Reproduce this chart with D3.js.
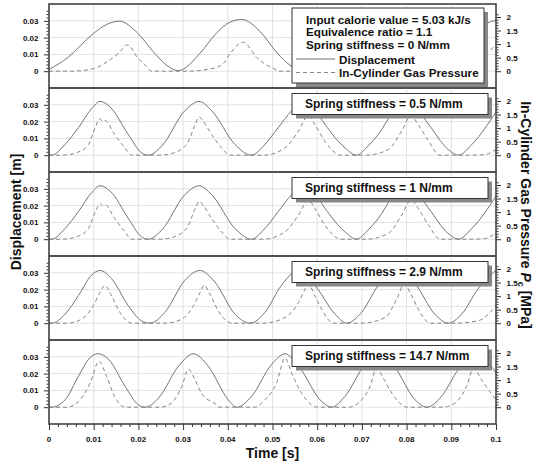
<!DOCTYPE html>
<html lang="en">
    <head>
        <meta charset="utf-8">
        <title>Displacement and in-cylinder pressure</title>
        <script src="https://d3js.org/d3.v7.min.js"></script>
        <style>
            html, body {
                margin: 0;
                padding: 0;
                width: 533px;
                height: 462px;
                overflow: hidden;
                background: white;
            }
            svg {
                display: block;
                overflow: visible;
            }
        </style>
    </head>
    <body>
        <script type="text/javascript">

            // spring stiffness of each panel, top to bottom
            var panelLabels = ["Spring stiffness = 0 N/mm", "Spring stiffness = 0.5 N/mm",
                               "Spring stiffness = 1 N/mm", "Spring stiffness = 2.9 N/mm",
                               "Spring stiffness = 14.7 N/mm"];
            var legendInfo = ["Input calorie value = 5.03 kJ/s", "Equivalence ratio = 1.1",
                              "Spring stiffness = 0 N/mm"];
            var seriesNames = ["Displacement", "In-Cylinder Gas Pressure"];

            var xTicks = [0, 0.01, 0.02, 0.03, 0.04, 0.05, 0.06, 0.07, 0.08, 0.09, 0.1];
            var dispTicks = [0, 0.01, 0.02, 0.03];
            var presTicks = [0, 0.5, 1, 1.5, 2];

            // [time s, displacement m]
            var disp0 = [[0,0.001],[0.004,0.0077],[0.0101,0.0228],[0.0129,0.0278],[0.0157,0.0298],[0.0198,0.0228],
                         [0.0233,0.0117],[0.0263,0.0036],[0.0289,0.0003],[0.0338,0.0107],[0.0375,0.0228],[0.0405,0.0292],
                         [0.0431,0.0308],[0.0472,0.0237],[0.051,0.011],[0.0539,0.0036],[0.0575,0.0003],[0.061,0.004],
                         [0.064,0.012],[0.067,0.022],[0.0695,0.028],[0.0717,0.030],[0.074,0.028],[0.077,0.02],
                         [0.080,0.011],[0.083,0.004],[0.086,0.0003],[0.089,0.003],[0.092,0.011],[0.095,0.021],
                         [0.098,0.0285],[0.1,0.0302]];
            var disp1 = [[0,0.0005],[0.0006,0],[0.0036,0.0064],[0.0066,0.0165],[0.0095,0.0276],[0.0114,0.032],
                         [0.0137,0.0286],[0.0177,0.0125],[0.0207,0.0014],[0.0222,0],[0.0252,0.0054],[0.0304,0.0265],
                         [0.0336,0.032],[0.0364,0.0265],[0.0416,0.0064],[0.0453,0],[0.048,0.0055],[0.0513,0.0165],
                         [0.0543,0.0265],[0.057,0.032],[0.0595,0.027],[0.0617,0.0185],[0.0662,0.0044],[0.0688,0],
                         [0.0712,0.005],[0.0737,0.0125],[0.0767,0.0245],[0.080,0.032],[0.0826,0.0265],[0.0849,0.0185],
                         [0.0893,0.0034],[0.0916,0],[0.0946,0.0064],[0.1,0.0258]];
            var disp2 = [[0,0.0005],[0.0006,0],[0.0036,0.0064],[0.0066,0.0165],[0.0095,0.0276],[0.0114,0.0318],
                         [0.0137,0.0286],[0.0177,0.0125],[0.0207,0.0014],[0.0222,0],[0.0252,0.0054],[0.0304,0.0265],
                         [0.0336,0.0318],[0.0364,0.0265],[0.0416,0.0064],[0.0453,0],[0.048,0.0055],[0.0513,0.0165],
                         [0.0543,0.0265],[0.057,0.0318],[0.0595,0.027],[0.0617,0.0185],[0.0662,0.0044],[0.0688,0],
                         [0.0712,0.005],[0.0737,0.0125],[0.0767,0.0245],[0.080,0.0318],[0.0826,0.0265],[0.0849,0.0185],
                         [0.0893,0.0034],[0.0916,0],[0.0946,0.0064],[0.1,0.0255]];
            var disp3 = [[0,0.0002],[0.0006,0],[0.0036,0.0054],[0.0066,0.0165],[0.0095,0.0286],[0.0114,0.0314],
                         [0.014,0.0265],[0.0177,0.0105],[0.0207,0.0014],[0.0226,0],[0.0259,0.0064],[0.0304,0.0255],
                         [0.0338,0.0314],[0.0371,0.0245],[0.0416,0.0054],[0.045,0],[0.0483,0.0064],[0.052,0.0225],
                         [0.0558,0.0314],[0.0595,0.0225],[0.064,0.0054],[0.0666,0],[0.0699,0.0064],[0.0737,0.0225],
                         [0.0781,0.0314],[0.0819,0.0235],[0.0863,0.0054],[0.0893,0],[0.0923,0.0054],[0.096,0.0205],
                         [0.1,0.0316]];
            var disp4 = [[0,0.0002],[0.0006,0],[0.0036,0.0044],[0.0066,0.0185],[0.0092,0.0296],[0.011,0.0318],
                         [0.0133,0.0286],[0.017,0.0125],[0.020,0.0014],[0.0215,0],[0.0245,0.0054],[0.029,0.0245],
                         [0.0323,0.0318],[0.0356,0.0245],[0.0401,0.0044],[0.042,0],[0.0453,0.0064],[0.0498,0.0255],
                         [0.0528,0.0318],[0.0558,0.0245],[0.061,0.0034],[0.0632,0],[0.0662,0.0064],[0.0707,0.0255],
                         [0.0738,0.0318],[0.0774,0.0235],[0.0819,0.0044],[0.0845,0],[0.0878,0.0064],[0.0916,0.0225],
                         [0.0953,0.0318],[0.0975,0.0286],[0.1,0.0205]];

            // [time s, pressure MPa]
            var pres0 = [[0,0],[0.005,0],[0.0101,0.1],[0.013,0.35],[0.0155,0.65],[0.0176,0.97],[0.0198,0.5],
                         [0.0215,0.22],[0.023,0],[0.0308,0],[0.036,0.08],[0.039,0.28],[0.0405,0.65],[0.0435,1.07],
                         [0.0465,0.5],[0.048,0.3],[0.0505,0.08],[0.0515,0],[0.059,0],[0.064,0.08],[0.067,0.28],
                         [0.069,0.65],[0.0717,1.0],[0.0745,0.5],[0.077,0.15],[0.0795,0],[0.0875,0],[0.093,0.1],
                         [0.096,0.35],[0.0987,0.78],[0.1,0.95]];
            var pres1 = [[0,0],[0.003,0],[0.0066,0.12],[0.0088,0.39],[0.0103,1.0],[0.0114,1.35],[0.0119,1.26],
                         [0.0125,1.28],[0.0147,0.76],[0.017,0.27],[0.0185,0],[0.025,0],[0.0289,0.15],[0.0312,0.52],
                         [0.0327,1.13],[0.0336,1.41],[0.0345,1.25],[0.0364,0.76],[0.0386,0.27],[0.0405,0],[0.048,0],
                         [0.0528,0.27],[0.0558,0.89],[0.058,1.46],[0.0595,1.13],[0.0617,0.52],[0.0647,0.02],[0.065,0],
                         [0.071,0],[0.0759,0.21],[0.0789,0.89],[0.081,1.46],[0.0826,1.13],[0.0849,0.52],[0.0875,0],
                         [0.094,0],[0.0975,0.02],[0.1,0.22]];
            var pres2 = [[0,0],[0.003,0],[0.0066,0.12],[0.0088,0.39],[0.0103,0.98],[0.0115,1.32],[0.012,1.24],
                         [0.0126,1.26],[0.0147,0.76],[0.017,0.27],[0.0185,0],[0.025,0],[0.0289,0.15],[0.0312,0.52],
                         [0.0327,1.13],[0.0336,1.40],[0.0345,1.25],[0.0364,0.76],[0.0386,0.27],[0.0405,0],[0.048,0],
                         [0.0528,0.27],[0.0558,0.89],[0.058,1.44],[0.0595,1.13],[0.0617,0.52],[0.0647,0.02],[0.065,0],
                         [0.071,0],[0.0759,0.21],[0.0789,0.89],[0.081,1.44],[0.0826,1.13],[0.0849,0.52],[0.0875,0],
                         [0.094,0],[0.0975,0.02],[0.1,0.24]];
            var pres3 = [[0,0],[0.004,0],[0.0073,0.15],[0.0099,0.64],[0.0114,1.13],[0.0125,1.40],[0.014,1.0],
                         [0.0159,0.39],[0.0185,0],[0.026,0],[0.0297,0.15],[0.0323,0.64],[0.0338,1.13],[0.0347,1.41],
                         [0.036,1.07],[0.0379,0.45],[0.0409,0],[0.048,0],[0.0528,0.21],[0.0558,0.76],[0.0573,1.26],
                         [0.058,1.45],[0.0595,1.0],[0.061,0.52],[0.0632,0.02],[0.0635,0],[0.070,0],[0.0752,0.21],
                         [0.0778,0.89],[0.0795,1.44],[0.0808,1.13],[0.0826,0.52],[0.0849,0.02],[0.0852,0],[0.091,0],
                         [0.096,0.09],[0.1,0.64]];
            var pres4 = [[0,0],[0.004,0],[0.0066,0.21],[0.0092,0.89],[0.0112,1.69],[0.0129,1.13],[0.0147,0.39],
                         [0.017,0],[0.025,0],[0.0274,0.15],[0.0297,0.76],[0.0312,1.40],[0.0327,1.0],[0.0341,0.52],
                         [0.0379,0.02],[0.038,0],[0.046,0],[0.0483,0.27],[0.0509,0.89],[0.0528,1.81],[0.0543,1.25],
                         [0.0565,0.52],[0.0595,0.02],[0.06,0],[0.067,0],[0.0692,0.15],[0.0718,0.76],[0.0733,1.44],
                         [0.0748,1.07],[0.0767,0.52],[0.0796,0.02],[0.08,0],[0.088,0],[0.0908,0.15],[0.0934,0.76],
                         [0.095,1.44],[0.0968,1.0],[0.1,0.27]];

            var dispSeries = [disp0, disp1, disp2, disp3, disp4];
            var presSeries = [pres0, pres1, pres2, pres3, pres4];

            var outerWidth = 533,
                outerHeight = 462;
            var margin = { left: 49, top: 4, right: 37 };
            var innerWidth = outerWidth - margin.left - margin.right;
            var panelHeight = 84;
            var fontFamily = "'Liberation Sans', Arial, sans-serif";

            var svg = d3.select("body")
                        .append("svg")
                        .attr("width", outerWidth)
                        .attr("height", outerHeight)
                        .attr("viewBox", `0 0 ${outerWidth} ${outerHeight}`)
                        .attr("font-family", fontFamily)
                        .attr("font-weight", "bold");

            var xScale = d3.scaleLinear().domain([0, 0.1]).range([0, innerWidth]);
            var yDisp = d3.scaleLinear().domain([-0.01, 0.04]).range([panelHeight, 0]);
            var yPres = d3.scaleLinear().domain([-0.62, 2.48]).range([panelHeight, 0]);

            var dispLine = d3.line()
                .x(d => xScale(d[0]))
                .y(d => yDisp(d[1]))
                .curve(d3.curveMonotoneX);
            var presLine = d3.line()
                .x(d => xScale(d[0]))
                .y(d => yPres(d[1]))
                .curve(d3.curveMonotoneX);

            // minor tick positions
            var xMinor = d3.range(0, 0.1001, 0.002).filter(v => Math.abs(v * 100 - Math.round(v * 100)) > 1e-6);
            var dispMinor = d3.range(0, 0.0361, 0.002).filter(v => Math.abs(v * 100 - Math.round(v * 100)) > 1e-6);
            var presMinor = d3.range(0, 2.11, 0.1).filter(v => Math.abs(v * 2 - Math.round(v * 2)) > 1e-6);

            var frameColor = "#4d4d4d";

            // tick marks from the d3 axis, labels drawn as plain text
            function tickMarks(sel) {
                sel.select(".domain").remove();
                sel.selectAll("text").remove();
                sel.selectAll(".tick line").attr("stroke", "#333");
            }

            panelLabels.forEach(function(label, i) {

                var g = svg.append("g")
                    .attr("transform", `translate(${margin.left},${margin.top + i * panelHeight})`);

                // grid
                g.selectAll(".vgrid")
                    .data(xTicks.slice(1, -1))
                    .enter().append("line")
                    .attr("x1", d => xScale(d)).attr("x2", d => xScale(d))
                    .attr("y1", 0).attr("y2", panelHeight)
                    .attr("stroke", "#e2e2e2");
                g.selectAll(".hgrid")
                    .data(dispTicks)
                    .enter().append("line")
                    .attr("x1", 0).attr("x2", innerWidth)
                    .attr("y1", d => yDisp(d)).attr("y2", d => yDisp(d))
                    .attr("stroke", "#e2e2e2");

                g.append("path")
                    .datum(dispSeries[i])
                    .attr("d", dispLine)
                    .attr("fill", "none")
                    .attr("stroke", "#737373")
                    .attr("stroke-width", 1);

                g.append("path")
                    .datum(presSeries[i])
                    .attr("d", presLine)
                    .attr("fill", "none")
                    .attr("stroke", "#858585")
                    .attr("stroke-width", 1)
                    .attr("stroke-dasharray", "4,3");

                // left axis
                g.append("g")
                    .call(d3.axisLeft(yDisp).tickValues(dispTicks).tickSize(5))
                    .call(tickMarks);
                g.append("g")
                    .call(d3.axisLeft(yDisp).tickValues(dispMinor).tickSize(2.5))
                    .call(tickMarks);
                g.selectAll(".dlab")
                    .data(dispTicks)
                    .enter().append("text")
                    .attr("x", -10.5)
                    .attr("y", d => yDisp(d) + 3)
                    .attr("text-anchor", "end")
                    .attr("font-size", 8)
                    .attr("fill", "#111")
                    .text(d => String(d));

                // right axis
                g.append("g")
                    .attr("transform", `translate(${innerWidth},0)`)
                    .call(d3.axisRight(yPres).tickValues(presTicks).tickSize(5))
                    .call(tickMarks);
                g.append("g")
                    .attr("transform", `translate(${innerWidth},0)`)
                    .call(d3.axisRight(yPres).tickValues(presMinor).tickSize(2.5))
                    .call(tickMarks);
                g.selectAll(".plab")
                    .data(presTicks)
                    .enter().append("text")
                    .attr("x", innerWidth + 10.5)
                    .attr("y", d => yPres(d) + 3)
                    .attr("font-size", 8)
                    .attr("fill", "#111")
                    .text(d => String(d));

                // panel frame
                g.append("rect")
                    .attr("width", innerWidth)
                    .attr("height", panelHeight)
                    .attr("fill", "none")
                    .attr("stroke", frameColor)
                    .attr("stroke-width", 1.7);

                // legend boxes
                if (i === 0) {
                    var lg = g.append("g").attr("transform", "translate(243,4)");
                    lg.append("rect").attr("x", 4).attr("y", 4).attr("width", 192).attr("height", 75)
                        .attr("fill", "#888");
                    lg.append("rect").attr("width", 192).attr("height", 75)
                        .attr("fill", "white").attr("stroke", "#333").attr("stroke-width", 1);
                    legendInfo.forEach(function(t, j) {
                        lg.append("text")
                            .attr("x", 14).attr("y", 16 + j * 12.3)
                            .attr("font-size", 11.7)
                            .attr("fill", "#111")
                            .text(t);
                    });
                    seriesNames.forEach(function(t, j) {
                        var yy = 51 + j * 13.5;
                        lg.append("line")
                            .attr("x1", 4).attr("x2", 43)
                            .attr("y1", yy).attr("y2", yy)
                            .attr("stroke", j === 0 ? "#737373" : "#858585")
                            .attr("stroke-dasharray", j === 0 ? null : "4,3");
                        lg.append("text")
                            .attr("x", 47).attr("y", yy + 4.5)
                            .attr("font-size", 11.7)
                            .attr("fill", "#111")
                            .text(t);
                    });
                } else {
                    var bg = g.append("g").attr("transform", "translate(243,5.5)");
                    bg.append("rect").attr("x", 4).attr("y", 4).attr("width", 196).attr("height", 21)
                        .attr("fill", "#888");
                    bg.append("rect").attr("width", 196).attr("height", 21)
                        .attr("fill", "white").attr("stroke", "#333").attr("stroke-width", 1);
                    bg.append("text")
                        .attr("x", 13).attr("y", 14.5)
                        .attr("font-size", 12)
                        .attr("fill", "#111")
                        .text(label);
                }
            });

            // bottom axis
            var bottomY = margin.top + panelLabels.length * panelHeight;
            var bottom = svg.append("g")
                .attr("transform", `translate(${margin.left},${bottomY})`);
            bottom.append("g")
                .call(d3.axisBottom(xScale).tickValues(xTicks).tickSize(6))
                .call(tickMarks);
            bottom.append("g")
                .call(d3.axisBottom(xScale).tickValues(xMinor).tickSize(3))
                .call(tickMarks);
            bottom.selectAll(".xlab")
                .data(xTicks)
                .enter().append("text")
                .attr("x", d => xScale(d))
                .attr("y", 18)
                .attr("text-anchor", "middle")
                .attr("font-size", 8)
                .attr("fill", "#111")
                .text(d => String(d));

            // axis titles
            svg.append("text")
                .attr("x", margin.left + innerWidth / 2)
                .attr("y", 458)
                .attr("text-anchor", "middle")
                .attr("font-size", 14)
                .attr("fill", "#111")
                .text("Time [s]");

            svg.append("text")
                .attr("transform", "translate(21,212) rotate(-90)")
                .attr("text-anchor", "middle")
                .attr("font-size", 14)
                .attr("fill", "#111")
                .text("Displacement [m]");

            var rt = svg.append("text")
                .attr("transform", "translate(521,215) rotate(90)")
                .attr("text-anchor", "middle")
                .attr("font-size", 14)
                .attr("fill", "#111");
            rt.append("tspan").text("In-Cylinder Gas Pressure ");
            rt.append("tspan").attr("font-style", "italic").text("P");
            rt.append("tspan").attr("font-size", 9).attr("dy", 3).text("c");
            rt.append("tspan").attr("dy", -3).text(" [MPa]");

        </script>
    </body>
</html>
